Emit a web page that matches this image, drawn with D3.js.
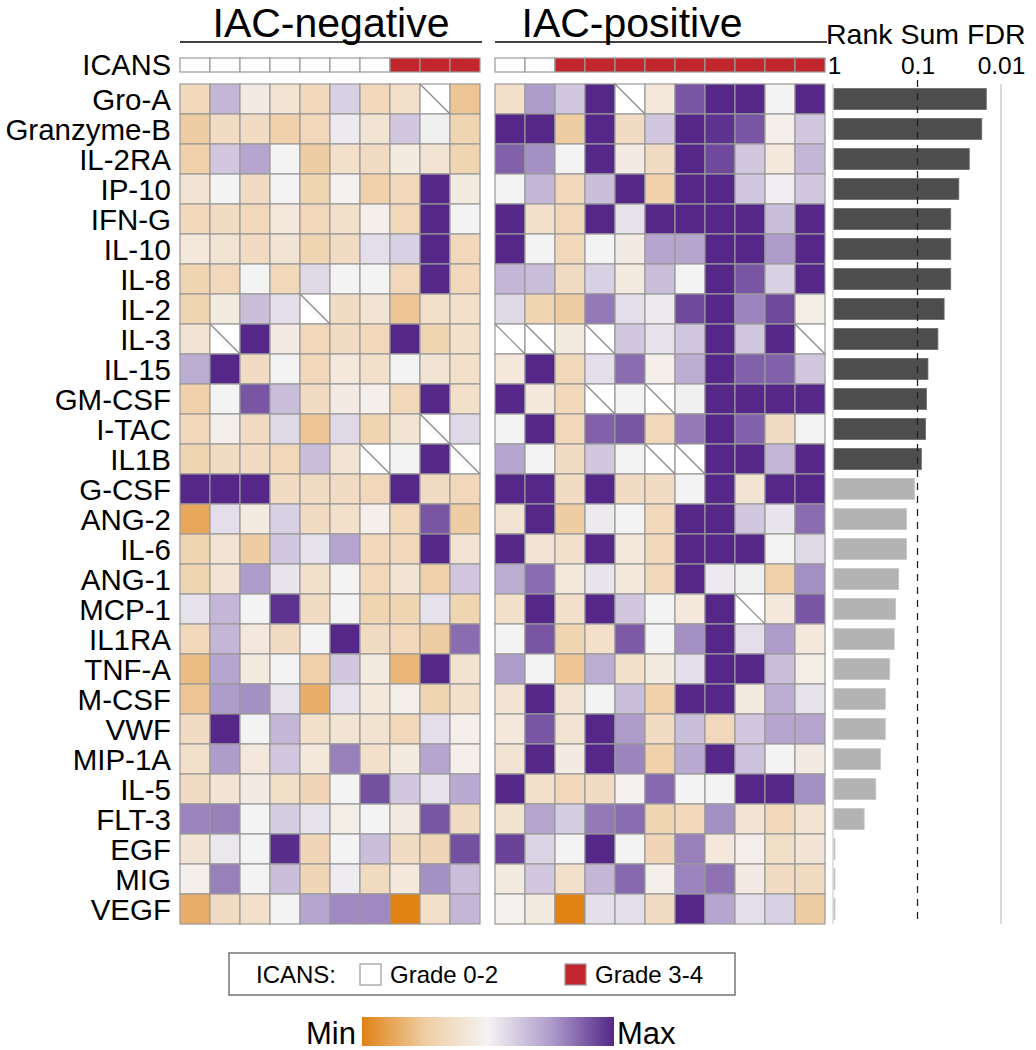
<!DOCTYPE html>
<html>
<head>
<meta charset="utf-8">
<script src="https://cdn.jsdelivr.net/npm/d3@7"></script>
<style>
  body { margin: 0; background: #fff; }
  text { font-family: "Liberation Sans", Arial, sans-serif; fill: #000; }
</style>
</head>
<body>
<svg id="chart" width="1036" height="1050"></svg>
<script>
const cytokines = ["Gro-A", "Granzyme-B", "IL-2RA", "IP-10", "IFN-G", "IL-10", "IL-8", "IL-2", "IL-3", "IL-15",
  "GM-CSF", "I-TAC", "IL1B", "G-CSF", "ANG-2", "IL-6", "ANG-1", "MCP-1", "IL1RA", "TNF-A",
  "M-CSF", "VWF", "MIP-1A", "IL-5", "FLT-3", "EGF", "MIG", "VEGF"];

// ICANS grade per patient: 0 = grade 0-2, 1 = grade 3-4
const icansNeg = [0, 0, 0, 0, 0, 0, 0, 1, 1, 1];
const icansPos = [0, 0, 1, 1, 1, 1, 1, 1, 1, 1, 1];

// scaled levels, -1 = min, 1 = max, null = not measured
const valuesNeg = [
  [-0.35, 0.35, -0.1, -0.2, -0.35, 0.2, -0.35, -0.25, null, -0.55],
  [-0.5, -0.3, -0.3, -0.45, -0.35, 0.05, -0.2, 0.25, 0.02, -0.4],
  [-0.45, 0.25, 0.45, 0, -0.5, -0.25, -0.3, -0.12, -0.2, -0.4],
  [-0.2, 0, -0.3, 0, -0.4, -0.03, -0.45, -0.35, 1, -0.12],
  [-0.35, -0.3, -0.35, -0.15, -0.35, -0.25, -0.05, -0.35, 1, 0],
  [-0.15, -0.2, -0.3, -0.2, -0.4, -0.3, 0.12, 0.2, 1, -0.35],
  [-0.4, -0.35, 0, -0.35, 0.15, 0, 0, -0.35, 1, -0.35],
  [-0.4, -0.12, 0.3, 0.12, null, -0.3, -0.2, -0.55, -0.25, -0.25],
  [-0.2, null, 1, -0.1, -0.35, -0.3, -0.35, 1, -0.4, -0.25],
  [0.4, 1, -0.3, 0, -0.35, -0.15, -0.25, 0, -0.2, -0.25],
  [-0.45, 0, 0.8, 0.3, -0.3, -0.1, -0.05, -0.35, 1, -0.25],
  [-0.35, -0.05, -0.3, 0.15, -0.55, 0.15, -0.4, -0.2, null, 0.15],
  [-0.4, -0.3, -0.3, -0.35, 0.3, -0.2, null, 0, 1, null],
  [1, 1, 1, -0.3, -0.3, -0.3, -0.35, 1, -0.3, -0.35],
  [-0.75, 0.12, -0.12, 0.2, -0.3, -0.25, -0.05, -0.35, 0.8, -0.5],
  [-0.4, -0.2, -0.5, 0.25, 0.1, 0.45, -0.35, -0.35, 1, -0.2],
  [-0.4, -0.2, 0.5, 0.08, -0.25, 0, -0.35, -0.2, -0.45, 0.25],
  [0.1, 0.35, 0, 0.95, -0.3, 0, -0.4, -0.4, 0.1, -0.4],
  [-0.35, 0.35, -0.15, -0.3, 0, 1, -0.3, -0.35, -0.5, 0.7],
  [-0.6, 0.45, -0.12, 0, -0.45, 0.25, -0.12, -0.65, 1, -0.22],
  [-0.55, 0.5, 0.55, 0.1, -0.7, 0.1, -0.15, -0.05, -0.4, -0.25],
  [-0.3, 1, 0, 0.35, -0.25, -0.2, -0.22, -0.35, 0.12, -0.05],
  [-0.25, 0.5, -0.15, 0.25, -0.15, 0.62, -0.25, -0.12, 0.45, -0.05],
  [-0.3, -0.2, -0.1, -0.28, -0.38, 0, 0.82, 0.25, 0.1, 0.42],
  [0.6, 0.62, 0, 0.22, 0.1, -0.08, 0, -0.1, 0.8, -0.3],
  [-0.18, 0.07, 0, 0.98, -0.38, 0, 0.3, -0.3, -0.38, 0.82],
  [-0.05, 0.62, 0, 0.3, -0.38, 0.04, -0.32, -0.15, 0.55, 0.3],
  [-0.7, -0.3, -0.25, 0, 0.45, 0.58, 0.58, -1, -0.25, 0.35]
];

const valuesPos = [
  [-0.25, 0.5, 0.25, 1, null, -0.15, 0.8, 1, 1, 0, 1],
  [1, 1, -0.5, 1, -0.3, 0.25, 1, 0.95, 0.8, -0.05, 0.25],
  [0.75, 0.55, 0, 1, -0.1, -0.3, 1, 0.85, 0.25, -0.15, 0.35],
  [0, 0.35, -0.35, 0.3, 1, -0.45, 1, 1, 0.25, 0.03, 0.25],
  [1, -0.25, -0.35, 1, 0.1, 1, 1, 1, 1, 0.3, 1],
  [1, 0, -0.35, 0, -0.1, 0.45, 0.45, 1, 1, 0.5, 1],
  [0.35, 0.3, -0.3, 0.2, -0.12, 0.3, 0, 1, 0.8, 0.2, 1],
  [0.15, -0.4, -0.5, 0.65, 0.12, 0.05, 0.85, 1, 0.6, 0.85, -0.08],
  [null, null, -0.12, null, 0.25, 0.1, 0.25, 1, 0.25, 1, null],
  [-0.15, 1, -0.35, 0.12, 0.7, -0.05, 0.4, 1, 0.75, 0.75, 0.25],
  [1, -0.15, -0.35, null, 0, null, 0.02, 1, 1, 1, 1],
  [0, 1, -0.35, 0.75, 0.8, -0.35, 0.65, 1, 0.75, -0.3, 0],
  [0.45, 0, -0.3, 0.25, 0, null, null, 1, 1, 0.35, 1],
  [1, 1, -0.3, 1, -0.3, -0.3, 0, 1, -0.2, 1, 1],
  [-0.2, 1, -0.5, 0.05, 0, -0.35, 1, 1, 0.25, 0.08, 0.7],
  [1, -0.2, -0.25, 1, -0.15, -0.35, 1, 1, 1, 0, 0.15],
  [0.4, 0.7, -0.15, 0.08, -0.15, -0.35, 1, 0.05, 0.02, -0.45, 0.55],
  [-0.25, 1, -0.25, 1, 0.25, 0, -0.15, 1, null, -0.15, 0.8],
  [0, 0.8, -0.4, -0.25, 0.78, 0, 0.55, 1, 0.12, 0.5, -0.15],
  [0.5, 0, -0.55, 0.4, -0.25, -0.12, 0.12, 1, 1, 0.3, -0.08],
  [-0.2, 1, -0.2, 0, 0.3, -0.45, 1, 1, -0.12, 0.4, 0.1],
  [-0.15, 0.8, -0.2, 1, 0.5, -0.3, 0.3, -0.35, 0.25, 0.45, 0.45],
  [-0.2, 1, -0.1, 1, 0.6, -0.45, 0.42, 1, 0.28, 0, -0.1],
  [1, -0.25, -0.35, -0.3, -0.02, 0.72, 0, 0, 1, 1, 0.55],
  [-0.22, 0.45, 0.22, 0.65, 0.7, -0.4, -0.35, 0.55, -0.2, -0.35, -0.2],
  [0.88, 0.18, 0, 1, 0, -0.38, 0.62, -0.15, -0.05, -0.28, -0.18],
  [-0.12, 0.25, -0.25, 0.35, 0.72, -0.05, 0.6, 0.68, -0.1, -0.3, -0.32],
  [-0.03, -0.12, -1, 0.12, 0.12, -0.3, 1, 0.45, 0.12, 0.2, -0.5]
];

const rankSumFdr = [0.015, 0.017, 0.024, 0.032, 0.04, 0.04, 0.04, 0.048, 0.057, 0.075,
  0.078, 0.08, 0.09, 0.108, 0.135, 0.135, 0.168, 0.183, 0.19, 0.215,
  0.243, 0.243, 0.278, 0.316, 0.435, 0.98, 0.98, 0.98];

const fdrTicks = [1, 0.1, 0.01];
const fdrCutoff = 0.1;

const svg = d3.select("#chart");

const color = d3.scaleLinear()
  .domain([-1, -0.5, 0, 0.5, 1])
  .range(["#e08214", "#efcda3", "#f4f3f3", "#ae9ccb", "#542788"]);

const icansColor = ["#ffffff", "#c1272d"];

const y = d3.scaleBand().domain(cytokines).range([84, 924]);

function drawHeatmap(values, icans, x0, title, titleX) {
  const x = d3.scaleBand().domain(d3.range(icans.length)).range([x0, x0 + 30 * icans.length]);
  const g = svg.append("g");

  g.append("text")
    .attr("x", titleX)
    .attr("y", 37)
    .attr("text-anchor", "middle")
    .attr("font-size", 41)
    .text(title);

  g.append("line")
    .attr("x1", x.range()[0])
    .attr("x2", x.range()[1] + 2)
    .attr("y1", 42)
    .attr("y2", 42)
    .attr("stroke", "black")
    .attr("stroke-width", 1.5);

  g.selectAll("rect.icans")
    .data(icans)
    .enter()
    .append("rect")
    .attr("class", "icans")
    .attr("x", (d, i) => x(i))
    .attr("y", 58)
    .attr("width", x.bandwidth())
    .attr("height", 14)
    .attr("fill", (d) => icansColor[d])
    .attr("stroke", "#999")
    .attr("stroke-width", 1.2);

  const cells = [];
  values.forEach((row, r) => row.forEach((v, c) => cells.push({ name: cytokines[r], col: c, v: v })));

  g.selectAll("rect.cell")
    .data(cells)
    .enter()
    .append("rect")
    .attr("class", "cell")
    .attr("x", (d) => x(d.col))
    .attr("y", (d) => y(d.name))
    .attr("width", x.bandwidth())
    .attr("height", y.bandwidth())
    .attr("fill", (d) => (d.v === null ? "#ffffff" : color(d.v)))
    .attr("stroke", "#999")
    .attr("stroke-width", 1.2);

  // missing values get a diagonal slash
  g.selectAll("line.na")
    .data(cells.filter((d) => d.v === null))
    .enter()
    .append("line")
    .attr("class", "na")
    .attr("x1", (d) => x(d.col))
    .attr("y1", (d) => y(d.name))
    .attr("x2", (d) => x(d.col) + x.bandwidth())
    .attr("y2", (d) => y(d.name) + y.bandwidth())
    .attr("stroke", "#888")
    .attr("stroke-width", 1.2);
}

drawHeatmap(valuesNeg, icansNeg, 180, "IAC-negative", 331);
drawHeatmap(valuesPos, icansPos, 495, "IAC-positive", 632);

// row labels
svg.append("text")
  .attr("x", 171)
  .attr("y", 65)
  .attr("dy", "0.36em")
  .attr("text-anchor", "end")
  .attr("font-size", 29)
  .text("ICANS");

svg.selectAll("text.row")
  .data(cytokines)
  .enter()
  .append("text")
  .attr("class", "row")
  .attr("x", 171)
  .attr("y", (d) => y(d) + y.bandwidth() / 2)
  .attr("dy", "0.36em")
  .attr("text-anchor", "end")
  .attr("font-size", 29.5)
  .text((d) => d);

// rank sum FDR bars
const xFdr = d3.scaleLog().domain([1, 0.01]).range([834, 1001]);

svg.append("text")
  .attr("x", 826)
  .attr("y", 44)
  .attr("font-size", 28.5)
  .text("Rank Sum FDR");

const axis = svg.append("g")
  .attr("transform", "translate(0,84)")
  .call(d3.axisTop(xFdr).tickValues(fdrTicks).tickFormat((d) => String(d)).tickSize(0).tickPadding(10));
axis.select(".domain").remove();
axis.selectAll("text")
  .attr("font-size", 24.5)
  .attr("font-family", "Liberation Sans, Arial, sans-serif")
  .attr("fill", "#000");

svg.append("line")
  .attr("x1", xFdr(1) - 1).attr("x2", xFdr(1) - 1)
  .attr("y1", 84).attr("y2", 924)
  .attr("stroke", "#d9d9d9").attr("stroke-width", 1.5);

svg.append("line")
  .attr("x1", xFdr(0.01)).attr("x2", xFdr(0.01))
  .attr("y1", 84).attr("y2", 924)
  .attr("stroke", "#d9d9d9").attr("stroke-width", 2);

svg.selectAll("rect.bar")
  .data(rankSumFdr)
  .enter()
  .append("rect")
  .attr("class", "bar")
  .attr("x", xFdr(1))
  .attr("y", (d, i) => y(cytokines[i]) + y.bandwidth() * 0.15)
  .attr("width", (d) => Math.max(1, xFdr(d) - xFdr(1)))
  .attr("height", y.bandwidth() * 0.7)
  .attr("fill", (d) => (d < fdrCutoff ? "#4d4d4d" : "#b3b3b3"))
  .attr("stroke", (d) => (d < fdrCutoff ? "#6a6a6a" : "#c8c8c8"))
  .attr("stroke-width", 0.8);

svg.append("line")
  .attr("x1", xFdr(fdrCutoff)).attr("x2", xFdr(fdrCutoff))
  .attr("y1", 80).attr("y2", 924)
  .attr("stroke", "#222").attr("stroke-width", 1.3)
  .attr("stroke-dasharray", "7,6");

// ICANS legend
const legend = svg.append("g");
legend.append("rect")
  .attr("x", 229).attr("y", 953)
  .attr("width", 506).attr("height", 42)
  .attr("fill", "none").attr("stroke", "#777").attr("stroke-width", 1.5);
legend.append("text")
  .attr("x", 256).attr("y", 983)
  .attr("font-size", 24)
  .text("ICANS:");
const grades = ["Grade 0-2", "Grade 3-4"];
const gradeX = [360, 565];
grades.forEach((g, i) => {
  legend.append("rect")
    .attr("x", gradeX[i]).attr("y", 964)
    .attr("width", 21).attr("height", 21)
    .attr("fill", icansColor[i]).attr("stroke", "#999").attr("stroke-width", 1.2);
  legend.append("text")
    .attr("x", gradeX[i] + 30).attr("y", 983)
    .attr("font-size", 24)
    .text(g);
});

// colour scale legend
const defs = svg.append("defs");
const grad = defs.append("linearGradient").attr("id", "minmax");
color.domain().forEach((d) => {
  grad.append("stop")
    .attr("offset", `${((d + 1) / 2) * 100}%`)
    .attr("stop-color", color(d));
});
svg.append("rect")
  .attr("x", 362).attr("y", 1017)
  .attr("width", 252).attr("height", 29)
  .attr("fill", "url(#minmax)");
svg.append("text")
  .attr("x", 356).attr("y", 1044)
  .attr("text-anchor", "end")
  .attr("font-size", 31)
  .text("Min");
svg.append("text")
  .attr("x", 617).attr("y", 1044)
  .attr("font-size", 31)
  .text("Max");
</script>
</body>
</html>
